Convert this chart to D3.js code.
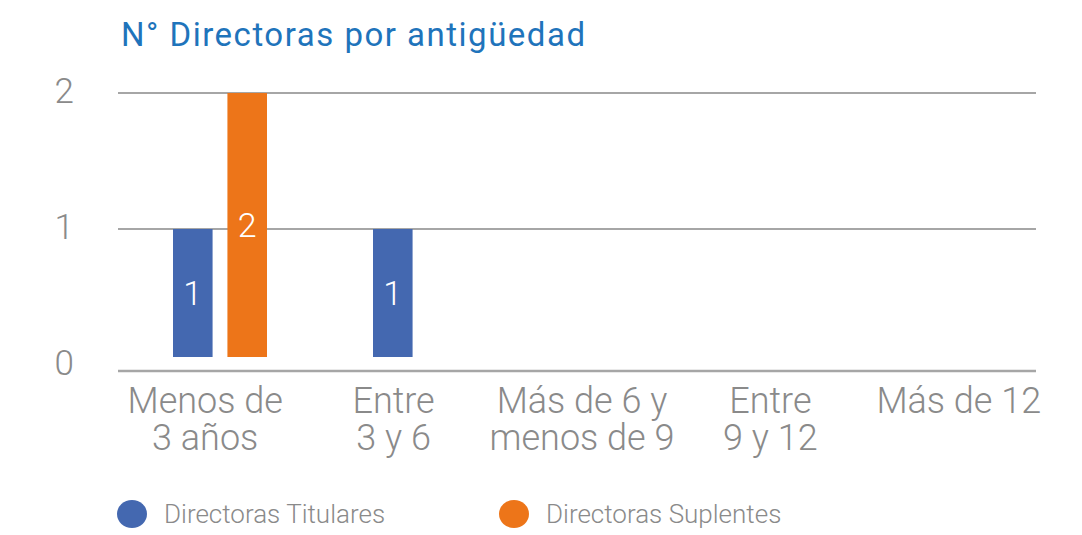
<!DOCTYPE html>
<html lang="es">
<head>
    <meta charset="UTF-8">
    <title>N° Directoras por antigüedad</title>
    <script src="https://d3js.org/d3.v7.min.js"></script>
    <style>
        body {
            margin: 0;
            background-color: #ffffff;
            font-family: Roboto, "Noto Sans", sans-serif;
        }
        svg text { font-family: Roboto, "Noto Sans", sans-serif; font-weight: 300; }
    </style>
</head>
<body>
    <svg id="chart" width="1082" height="535"></svg>
    <script>
        // data
        const categories = [["Menos de", "3 años"], ["Entre", "3 y 6"], ["Más de 6 y", "menos de 9"], ["Entre", "9 y 12"], ["Más de 12"]];
        const seriesNames = ["Directoras Titulares", "Directoras Suplentes"];
        const titulares = [1, 1, null, null, null];
        const suplentes = [2, null, null, null, null];
        const yTicks = [0, 1, 2];
        const colors = ["#4468b0", "#ed7519"];
        const gray = "#8a8a8a";

        const svg = d3.select('#chart');
        const catIds = categories.map((c, i) => i);

        const yScale = d3.scaleLinear().domain([0, 2]).range([365, 93]);
        // label positions and bar groups follow slightly different spacing in the original
        const xLabel = d3.scaleBand().domain(catIds).range([111, 1053]);
        const xBar = d3.scaleBand().domain(catIds).range([120, 1120]);
        const xSeries = d3.scaleBand().domain([0, 1]).range([53, 147]).paddingInner(0.2727);

        // title
        svg.append('text')
            .attr('x', 121).attr('y', 46)
            .attr('fill', '#1f74bb')
            .attr('font-size', 33)
            .attr('letter-spacing', 1.5)
            .style('font-weight', 400)
            .text('N° Directoras por antigüedad');

        // gridlines
        svg.selectAll('.grid')
            .data(yTicks.filter(d => d > 0))
            .enter().append('line')
            .attr('x1', 118).attr('x2', 1036)
            .attr('y1', d => yScale(d)).attr('y2', d => yScale(d))
            .attr('stroke', '#a6a6a6').attr('stroke-width', 2);
        svg.append('line')
            .attr('x1', 118).attr('x2', 1036)
            .attr('y1', yScale(0) + 6).attr('y2', yScale(0) + 6)
            .attr('stroke', '#a6a6a6').attr('stroke-width', 2.5);

        // y labels
        svg.selectAll('.ylab')
            .data(yTicks)
            .enter().append('text')
            .attr('x', 74)
            .attr('y', d => yScale(d) - 2)
            .attr('text-anchor', 'end')
            .attr('dominant-baseline', 'central')
            .attr('fill', gray)
            .attr('font-size', 35)
            .text(d => d);

        // bars
        const bars = [];
        [titulares, suplentes].forEach((vals, s) => {
            vals.forEach((v, i) => { if (v != null) bars.push({ i, s, v }); });
        });
        const barBottom = yScale(0) - 8;
        svg.selectAll('.bar')
            .data(bars)
            .enter().append('rect')
            .attr('x', d => xBar(d.i) + xSeries(d.s))
            .attr('width', xSeries.bandwidth())
            .attr('y', d => yScale(d.v))
            .attr('height', d => barBottom - yScale(d.v))
            .attr('fill', d => colors[d.s]);
        svg.selectAll('.val')
            .data(bars)
            .enter().append('text')
            .attr('x', d => xBar(d.i) + xSeries(d.s) + xSeries.bandwidth() / 2)
            .attr('y', d => (yScale(d.v) + barBottom) / 2)
            .attr('text-anchor', 'middle')
            .attr('dominant-baseline', 'central')
            .attr('fill', '#ffffff')
            .attr('font-size', 34)
            .text(d => d.v);

        // category labels
        const cats = svg.selectAll('.cat')
            .data(categories)
            .enter().append('text')
            .attr('text-anchor', 'middle')
            .attr('fill', gray)
            .attr('font-size', 36);
        cats.selectAll('tspan')
            .data((d, i) => d.map((line, k) => ({ line, k, i })))
            .enter().append('tspan')
            .attr('x', d => xLabel(d.i) + xLabel.bandwidth() / 2)
            .attr('y', d => 413 + d.k * 37)
            .text(d => d.line);

        // legend
        const legendX = [132, 514];
        const legend = svg.selectAll('.leg')
            .data(seriesNames)
            .enter().append('g')
            .attr('transform', (d, i) => `translate(${legendX[i]},514)`);
        legend.append('ellipse')
            .attr('rx', 15).attr('ry', 14)
            .attr('fill', (d, i) => colors[i]);
        legend.append('text')
            .attr('x', 32)
            .attr('dominant-baseline', 'central')
            .attr('fill', gray)
            .attr('font-size', 26)
            .text(d => d);
    </script>
</body>
</html>
